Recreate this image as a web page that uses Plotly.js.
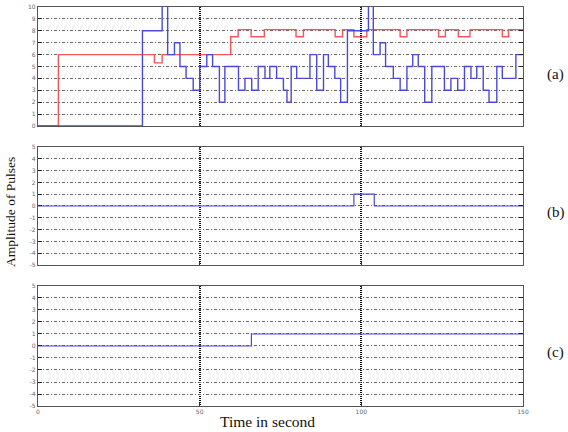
<!DOCTYPE html>
<html>
<head>
<meta charset="utf-8">
<script src="https://cdn.plot.ly/plotly-3.0.1.min.js"></script>
<style>html,body{margin:0;padding:0;background:#fff;}#chart{width:568px;height:432px;}</style>
</head>
<body>
<div id="chart"></div>
<script>
// Panel (a) blue series (step, value holds from time until next time)
const blueA_t = [0, 32.3, 38.4, 40.1, 42.2, 43.9, 45.8, 48, 50, 52.2, 54, 56.1, 57.8, 62, 64, 66.1, 68.1, 70.2, 71.7, 73.8, 75.9, 77, 78.3, 80, 84.1, 86.2, 88.3, 89.8, 91.8, 93.6, 95.7, 102.2, 103.7, 105.8, 107.5, 109.9, 112, 114.1, 115.9, 117.6, 119.6, 121.8, 125.7, 127.7, 129.8, 131.9, 133.9, 135.7, 137.7, 139.5, 141.9, 143.6, 147.8, 150];
const blueA_v = [0, 8, 11, 6, 7, 5, 4, 3, 5, 6, 5, 2, 5, 3, 4, 3, 5, 4, 5, 4, 3, 2, 5, 4, 6, 3, 6, 5, 4, 2, 8, 11, 6, 7, 5, 4, 3, 5, 6, 5, 2, 5, 3, 4, 3, 5, 4, 5, 3, 2, 5, 4, 6, 6];
// Panel (a) red series
const redA_t = [0, 6.3, 36, 38.4, 59.6, 61.9, 65.9, 70, 79.8, 82.1, 91.9, 94.2, 97.7, 101.7, 112, 114.1, 123.9, 126, 130, 133.6, 143.6, 145.5, 150];
const redA_v = [0, 6, 5.3, 6, 7.5, 8.1, 7.5, 8.1, 7.5, 8.1, 7.5, 8.1, 7.5, 8.1, 7.5, 8.1, 7.5, 8.1, 7.5, 8.1, 7.5, 8.1, 8.1];
// Panel (b)
const blueB_t = [0, 97.7, 104, 150];
const blueB_v = [0, 1, 0, 0];
// Panel (c)
const blueC_t = [0, 66, 150];
const blueC_v = [0, 1, 1];
// Tick labels
const xTicks = [0, 50, 100, 150];
const yTicksA = [0,1,2,3,4,5,6,7,8,9,10];
const yTicksBC = [-5,-4,-3,-2,-1,0,1,2,3,4,5];
const panelLabels = ['(a)', '(b)', '(c)'];

const blue = '#4a4ad8';
const red = '#ee5a5a';

const traces = [
  {x: redA_t, y: redA_v, type: 'scatter', mode: 'lines', line: {shape: 'hv', color: red, width: 1.4}, xaxis: 'x', yaxis: 'y'},
  {x: blueA_t, y: blueA_v, type: 'scatter', mode: 'lines', line: {shape: 'hv', color: blue, width: 1.4}, xaxis: 'x', yaxis: 'y'},
  {x: blueB_t, y: blueB_v, type: 'scatter', mode: 'lines', line: {shape: 'hv', color: blue, width: 1.2}, xaxis: 'x2', yaxis: 'y2'},
  {x: blueC_t, y: blueC_v, type: 'scatter', mode: 'lines', line: {shape: 'hv', color: blue, width: 1.2}, xaxis: 'x3', yaxis: 'y3'}
];

function xax(anchor, showLabels) {
  return {
    anchor: anchor, domain: [0, 1], range: [0, 150], tickvals: xTicks,
    ticktext: xTicks.map(String), showticklabels: showLabels,
    tickfont: {size: 6, color: '#666', family: 'DejaVu Sans'},
    showgrid: true, gridcolor: '#111', gridwidth: 2, griddash: '1px,1px',
    showline: true, linecolor: '#555', linewidth: 1.2, mirror: 'ticks',
    ticks: 'inside', ticklen: 3, tickcolor: '#333', zeroline: false, fixedrange: true
  };
}
function yax(anchor, domain, range, ticks) {
  return {
    anchor: anchor, domain: domain, range: range, tickvals: ticks,
    ticktext: ticks.map(String),
    tickfont: {size: 6, color: '#666', family: 'DejaVu Sans'},
    showgrid: true, gridcolor: '#666', gridwidth: 1, griddash: '3px,2px,1px,2px',
    showline: true, linecolor: '#555', linewidth: 1.2, mirror: 'ticks',
    ticks: 'inside', ticklen: 4, tickcolor: '#222', zeroline: false, fixedrange: true
  };
}

const layout = {
  width: 568, height: 432,
  margin: {l: 38, r: 45, t: 7, b: 26},
  paper_bgcolor: '#fff', plot_bgcolor: '#fff',
  showlegend: false,
  xaxis: xax('y', false),
  yaxis: yax('x', [0.7018, 1], [0, 10], yTicksA),
  xaxis2: xax('y2', false),
  yaxis2: yax('x2', [0.3534, 0.6491], [-5, 5], yTicksBC),
  xaxis3: xax('y3', true),
  yaxis3: yax('x3', [0, 0.3008], [-5, 5], yTicksBC),
  annotations: [
    {text: panelLabels[0], xref: 'paper', yref: 'paper', x: 1.068, y: 0.83, xanchor: 'center', yanchor: 'middle', showarrow: false, font: {family: 'Liberation Serif', size: 15, color: '#111'}},
    {text: panelLabels[1], xref: 'paper', yref: 'paper', x: 1.068, y: 0.486, xanchor: 'center', yanchor: 'middle', showarrow: false, font: {family: 'Liberation Serif', size: 15, color: '#111'}},
    {text: panelLabels[2], xref: 'paper', yref: 'paper', x: 1.068, y: 0.135, xanchor: 'center', yanchor: 'middle', showarrow: false, font: {family: 'Liberation Serif', size: 15, color: '#111'}},
    {text: 'Amplitude of Pulses', xref: 'paper', yref: 'paper', x: -0.058, y: 0.486, xanchor: 'center', yanchor: 'middle', textangle: -90, showarrow: false, font: {family: 'Liberation Serif', size: 13.5, color: '#111'}},
    {text: 'Time in second', xref: 'paper', yref: 'paper', x: 0.474, y: -0.064, xanchor: 'center', yanchor: 'bottom', showarrow: false, font: {family: 'Liberation Serif', size: 15.5, color: '#111'}}
  ]
};

Plotly.newPlot('chart', traces, layout, {displayModeBar: false, staticPlot: true});
</script>
</body>
</html>
